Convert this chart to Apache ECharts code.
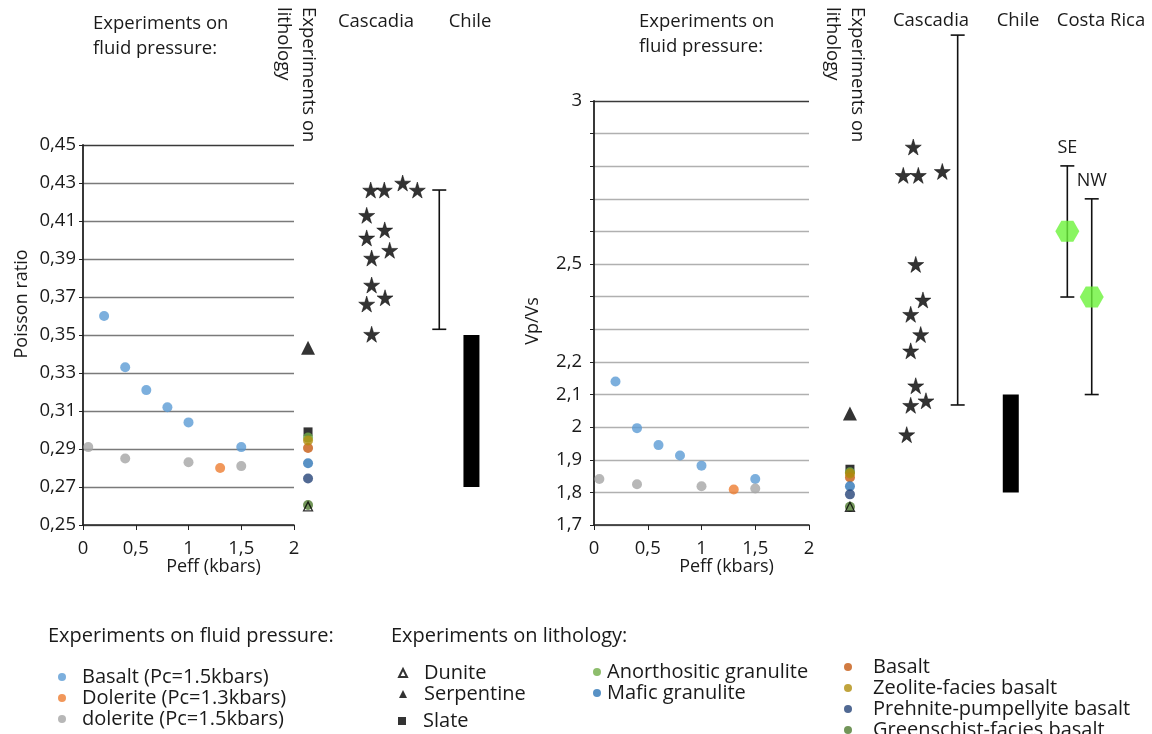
<!DOCTYPE html>
<html>
<head>
<meta charset="utf-8">
<script src="https://cdn.jsdelivr.net/npm/echarts@6/dist/echarts.min.js"></script>
<style>
html,body{margin:0;padding:0;background:#fff;}
#chart{width:1152px;height:734px;}
</style>
</head>
<body>
<div id="chart"></div>
<script>
// experiments on fluid pressure (Peff in kbars)
var peffBasalt = [0.2, 0.4, 0.6, 0.8, 1.0, 1.5];
var poissonBasalt = [0.360, 0.333, 0.321, 0.312, 0.304, 0.291];
var vpvsBasalt = [2.140, 1.997, 1.945, 1.913, 1.882, 1.841];
var peffDolerite13 = [1.3];
var poissonDolerite13 = [0.280];
var vpvsDolerite13 = [1.809];
var peffDolerite15 = [0.05, 0.4, 1.0, 1.5];
var poissonDolerite15 = [0.291, 0.285, 0.283, 0.281];
var vpvsDolerite15 = [1.841, 1.825, 1.819, 1.812];

// experiments on lithology
var lithNames = ['Slate', 'Anorthositic granulite', 'Basalt', 'Mafic granulite', 'Prehnite-pumpellyite basalt',
  'Zeolite-facies basalt', 'Greenschist-facies basalt', 'Dunite', 'Serpentine'];
var lithPoisson = [0.299, 0.296, 0.2905, 0.2825, 0.2745, 0.2945, 0.2605, 0.2598, 0.3433];
var lithVpVs = [1.871, 1.862, 1.846, 1.819, 1.794, 1.858, 1.756, 1.756, 2.042];

// Cascadia stars: [horizontal spread, value]
var cascadiaSpreadL = [2.727, 2.856, 3.030, 3.169, 2.689, 2.860, 2.689, 2.907, 2.736, 2.736, 2.863, 2.689, 2.736];
var cascadiaPoisson = [0.4263, 0.4263, 0.430, 0.4263, 0.413, 0.4053, 0.4011, 0.3946, 0.3905, 0.3763, 0.3696, 0.3663, 0.3504];
var cascadiaSpreadR = [2.970, 2.877, 3.017, 3.240, 2.993, 3.060, 2.946, 3.039, 2.946, 2.993, 3.088, 2.946, 2.909];
var cascadiaVpVs = [2.859, 2.772, 2.772, 2.784, 2.499, 2.390, 2.346, 2.284, 2.234, 2.127, 2.081, 2.067, 1.977];

// ranges [column, low, high]
var cascadiaRangeL = [[3.377, 0.353, 0.4263]];
var cascadiaRangeR = [[3.383, 2.068, 3.202]];
var chileRangeL = [[3.682, 0.270, 0.350]];
var chileRangeR = [[3.877, 1.800, 2.100]];
var costaRicaNames = ['SE', 'NW'];
var costaRicaRange = [[4.403, 2.399, 2.801], [4.630, 2.100, 2.700]];
var costaRicaMean = [[4.403, 2.601], [4.630, 2.399]];

var lithColumnL = 2.133;
var lithColumnR = 2.381;
var vpvsShownTicks = [3, 2.5, 2.2, 2.1, 2, 1.9, 1.8, 1.7];

var FONT = "'Open Sans', 'DejaVu Sans', sans-serif";
var TXT = '#1a1a1a';
var STAR = 'path://M50,0 L61,35 L98,35 L68,57 L79,91 L50,70 L21,91 L32,57 L2,35 L39,35 Z';
var HEX = 'path://M0,10 L5.5,0 L16.5,0 L22,10 L16.5,20 L5.5,20 Z';

var lithStyle = {
  'Slate': {symbol: 'rect', size: 9, color: '#000'},
  'Anorthositic granulite': {symbol: 'circle', size: 10, color: '#70ad47'},
  'Basalt': {symbol: 'circle', size: 10, color: '#c55a11'},
  'Mafic granulite': {symbol: 'circle', size: 10, color: '#2e75b6'},
  'Prehnite-pumpellyite basalt': {symbol: 'circle', size: 10, color: '#264478'},
  'Zeolite-facies basalt': {symbol: 'circle', size: 10, color: '#b08d0c'},
  'Greenschist-facies basalt': {symbol: 'circle', size: 10, color: '#4f7a2f'},
  'Dunite': {symbol: 'triangle', size: 9, color: 'rgba(0,0,0,0)', border: '#000'},
  'Serpentine': {symbol: 'triangle', size: 14, color: '#000'}
};

function comma(v, d) {
  var s = d == null ? String(Math.round(v * 100) / 100) : v.toFixed(d);
  return s.replace('.', ',');
}
function zip(a, b) {
  return a.map(function (v, i) { return [v, b[i]]; });
}

function errorBarItem(params, api) {
  var x = api.value(0);
  var lo = api.coord([x, api.value(1)]);
  var hi = api.coord([x, api.value(2)]);
  var cap = 7;
  var st = {stroke: '#111', lineWidth: 1.6};
  return {
    type: 'group',
    children: [
      {type: 'line', shape: {x1: lo[0], y1: lo[1], x2: hi[0], y2: hi[1]}, style: st},
      {type: 'line', shape: {x1: lo[0] - cap, y1: lo[1], x2: lo[0] + cap, y2: lo[1]}, style: st},
      {type: 'line', shape: {x1: hi[0] - cap, y1: hi[1], x2: hi[0] + cap, y2: hi[1]}, style: st}
    ]
  };
}
function costaRicaItem(params, api) {
  var g = errorBarItem(params, api);
  var hi = api.coord([api.value(0), api.value(2)]);
  g.children.push({
    type: 'text', x: hi[0], y: hi[1] - 18,
    style: {text: costaRicaNames[params.dataIndex], fontSize: 18, fontFamily: FONT, fill: TXT,
      align: 'center', verticalAlign: 'middle', textAlign: 'center', textVerticalAlign: 'middle'}
  });
  return g;
}
function rangeBarItem(params, api) {
  var x = api.value(0);
  var top = api.coord([x, api.value(2)]);
  var bot = api.coord([x, api.value(1)]);
  var w = 16;
  return {type: 'rect', shape: {x: top[0] - w / 2, y: top[1], width: w, height: bot[1] - top[1]}, style: {fill: '#000'}};
}

function visibleX(grid) {
  return {
    gridIndex: grid, type: 'value', min: 0, max: 2, interval: 0.5,
    name: 'Peff (kbars)', nameLocation: 'middle', nameGap: 33, nameMoveOverlap: false,
    nameTextStyle: {fontSize: 18, color: TXT, fontFamily: FONT, padding: [0, 0, 0, 50]},
    axisLine: {lineStyle: {color: '#222', width: 1.5}},
    axisTick: {show: true, length: 5, lineStyle: {color: '#222'}},
    axisLabel: {fontSize: 18.5, color: TXT, fontFamily: FONT, margin: 14, formatter: function (v) { return comma(v); }},
    splitLine: {show: false}
  };
}
function gridColors(n, base) {
  var c = [];
  for (var i = 0; i < n - 1; i++) c.push(base);
  c.push('#3a3a3a');
  return c;
}

var series = [];
function fluid(name, color, px, pl, pr) {
  series.push({name: name, type: 'scatter', xAxisIndex: 0, yAxisIndex: 0, symbolSize: 10,
    itemStyle: {color: color}, data: zip(px, pl), z: 3});
  series.push({name: name, type: 'scatter', xAxisIndex: 2, yAxisIndex: 2, symbolSize: 10,
    itemStyle: {color: color}, data: zip(px, pr), z: 3});
}
fluid('Basalt (Pc=1.5kbars)', '#5b9bd5', peffBasalt, poissonBasalt, vpvsBasalt);
fluid('Dolerite (Pc=1.3kbars)', '#ed7d31', peffDolerite13, poissonDolerite13, vpvsDolerite13);
fluid('dolerite (Pc=1.5kbars)', '#a5a5a5', peffDolerite15, poissonDolerite15, vpvsDolerite15);

lithNames.forEach(function (n, i) {
  var s = lithStyle[n];
  var item = {color: s.color};
  if (s.border) { item.borderColor = s.border; item.borderWidth = 1.3; }
  series.push({name: n, type: 'scatter', xAxisIndex: 1, yAxisIndex: 1, symbol: s.symbol, symbolSize: s.size,
    itemStyle: item, data: [[lithColumnL, lithPoisson[i]]], z: 4});
  series.push({name: n, type: 'scatter', xAxisIndex: 3, yAxisIndex: 3, symbol: s.symbol, symbolSize: s.size,
    itemStyle: item, data: [[lithColumnR, lithVpVs[i]]], z: 4});
});

var starStyle = {color: '#000', borderColor: '#000', borderWidth: 0.6};
series.push({name: 'Cascadia', type: 'scatter', xAxisIndex: 1, yAxisIndex: 1, symbol: STAR, symbolSize: 16,
  itemStyle: starStyle, data: zip(cascadiaSpreadL, cascadiaPoisson)});
series.push({name: 'Cascadia', type: 'scatter', xAxisIndex: 3, yAxisIndex: 3, symbol: STAR, symbolSize: 16,
  itemStyle: starStyle, data: zip(cascadiaSpreadR, cascadiaVpVs)});
series.push({name: 'Cascadia range', type: 'custom', xAxisIndex: 1, yAxisIndex: 1, renderItem: errorBarItem, data: cascadiaRangeL});
series.push({name: 'Cascadia range', type: 'custom', xAxisIndex: 3, yAxisIndex: 3, renderItem: errorBarItem, data: cascadiaRangeR});
series.push({name: 'Chile', type: 'custom', xAxisIndex: 1, yAxisIndex: 1, renderItem: rangeBarItem, data: chileRangeL});
series.push({name: 'Chile', type: 'custom', xAxisIndex: 3, yAxisIndex: 3, renderItem: rangeBarItem, data: chileRangeR});
series.push({name: 'Costa Rica range', type: 'custom', xAxisIndex: 3, yAxisIndex: 3, renderItem: costaRicaItem, data: costaRicaRange});
series.push({name: 'Costa Rica', type: 'scatter', xAxisIndex: 3, yAxisIndex: 3, symbol: HEX, symbolSize: [24, 21],
  itemStyle: {color: '#6cf23a'}, data: costaRicaMean, z: 5});

function txt(x, y, text, extra) {
  var el = {type: 'text', x: x, y: y, silent: true,
    style: {text: text, fontSize: 18.5, fontFamily: FONT, fill: TXT, lineHeight: 25,
      align: 'left', verticalAlign: 'top', textAlign: 'left', textVerticalAlign: 'top'}};
  if (extra) {
    for (var k in extra) {
      if (k === 'style') { for (var j in extra.style) el.style[j] = extra.style[j]; }
      else el[k] = extra[k];
    }
  }
  return el;
}
var centered = {style: {align: 'center', textAlign: 'center'}};

// legend columns: left, top, text padding, names
function legend(left, top, pad, names) {
  return {orient: 'vertical', left: left, top: top, height: 120, itemWidth: 8, itemHeight: 8, itemGap: 1,
    selectedMode: false, data: names,
    textStyle: {fontSize: 20, color: TXT, fontFamily: FONT, lineHeight: 19.5, padding: [0, 0, 0, pad]}};
}

var chart = echarts.init(document.getElementById('chart'));
chart.setOption({
  animation: false,
  backgroundColor: '#fff',
  textStyle: {fontFamily: FONT},
  grid: [
    {left: 83, top: 145, width: 211, height: 380},
    {left: 83, top: 145, width: 422, height: 380},
    {left: 594, top: 101, width: 215, height: 424},
    {left: 594, top: 3.15, width: 537.5, height: 521.85}
  ],
  xAxis: [
    visibleX(0),
    {gridIndex: 1, type: 'value', min: 0, max: 4, show: false},
    visibleX(2),
    {gridIndex: 3, type: 'value', min: 0, max: 5, show: false}
  ],
  yAxis: [
    {gridIndex: 0, type: 'value', min: 0.25, max: 0.45, interval: 0.02,
      name: 'Poisson ratio', nameLocation: 'middle', nameGap: 52, nameRotate: 90,
      nameTextStyle: {fontSize: 18, color: TXT, fontFamily: FONT, padding: [0, 0, 0, 62]},
      axisLine: {lineStyle: {color: '#222', width: 1.8}},
      axisTick: {show: true, length: 4, lineStyle: {color: '#222'}},
      axisLabel: {fontSize: 18.5, color: TXT, fontFamily: FONT, margin: 7, formatter: function (v) { return comma(v, 2); }},
      splitLine: {show: true, lineStyle: {color: gridColors(11, '#7a7a7a'), width: 1.3}}},
    {gridIndex: 1, type: 'value', min: 0.25, max: 0.45, show: false},
    {gridIndex: 2, type: 'value', min: 1.7, max: 3, interval: 0.1,
      name: 'Vp/Vs', nameLocation: 'middle', nameGap: 52, nameRotate: 90,
      nameTextStyle: {fontSize: 18, color: TXT, fontFamily: FONT, padding: [0, 16, 0, 0]},
      axisLine: {lineStyle: {color: '#222', width: 1.8}},
      axisTick: {show: true, length: 4, lineStyle: {color: '#222'}},
      axisLabel: {fontSize: 18.5, color: TXT, fontFamily: FONT, margin: 12, formatter: function (v) {
        var r = Math.round(v * 10) / 10;
        return vpvsShownTicks.indexOf(r) >= 0 ? comma(r) : '';
      }},
      splitLine: {show: true, lineStyle: {color: gridColors(14, '#b0b0b0'), width: 1.3}}},
    {gridIndex: 3, type: 'value', min: 1.7, max: 3.3, show: false}
  ],
  legend: [
    legend(53, 662, 11, ['Basalt (Pc=1.5kbars)', 'Dolerite (Pc=1.3kbars)', 'dolerite (Pc=1.5kbars)']),
    legend(393, 658, 12, ['Dunite', 'Serpentine']),
    legend(393, 706, 12, ['Slate']),
    legend(588, 657, 1, ['Anorthositic granulite', 'Mafic granulite']),
    legend(839, 652, 16, ['Basalt', 'Zeolite-facies basalt', 'Prehnite-pumpellyite basalt', 'Greenschist-facies basalt'])
  ],
  graphic: [
    txt(93, 11, 'Experiments on\nfluid pressure:'),
    txt(639, 9, 'Experiments on\nfluid pressure:'),
    txt(321, 7, 'Experiments on\nlithology', {rotation: -Math.PI / 2}),
    txt(870, 7, 'Experiments on\nlithology', {rotation: -Math.PI / 2}),
    txt(376, 9, 'Cascadia', centered),
    txt(470, 9, 'Chile', centered),
    txt(931, 8, 'Cascadia', centered),
    txt(1018, 8, 'Chile', centered),
    txt(1101, 8, 'Costa Rica', centered),
    txt(48, 624, 'Experiments on fluid pressure:', {style: {fontSize: 20}}),
    txt(391, 624, 'Experiments on lithology:', {style: {fontSize: 20}})
  ],
  series: series
});
</script>
</body>
</html>
